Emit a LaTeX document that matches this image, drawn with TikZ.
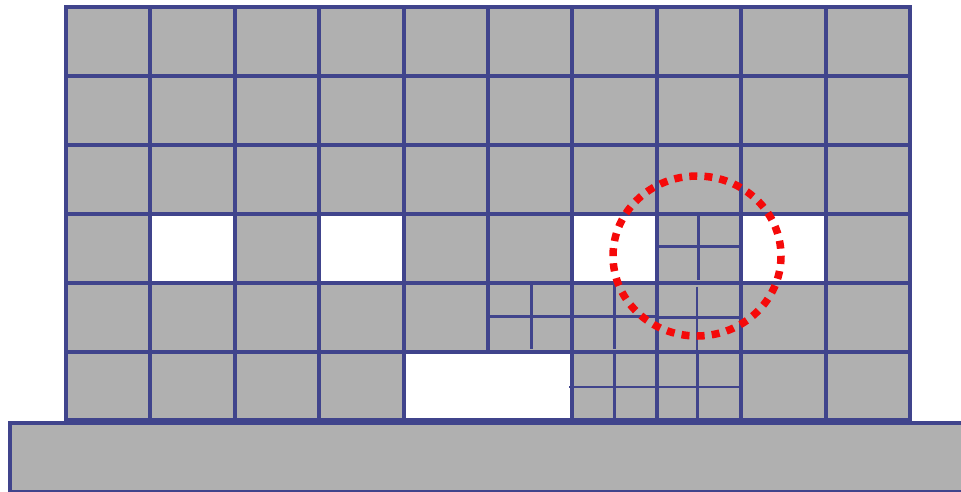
\documentclass[tikz,border=0pt]{standalone}
\usetikzlibrary{calc}
\definecolor{gridblue}{RGB}{64,68,140}
\definecolor{cellgray}{RGB}{176,176,176}
\definecolor{dotred}{RGB}{245,10,10}
\tikzset{
  thickline/.style={draw=gridblue, line width=4pt},
  thinline/.style={draw=gridblue, line width=2.6pt},
  whitecell/.style={fill=white},
  reddots/.style={draw=dotred, line width=7.5pt, dash pattern=on 8pt off 7.15pt}
}
\begin{document}
\begin{tikzpicture}[x=1pt,y=-1pt]
\useasboundingbox (0,0) rectangle (961,491);
% base slab
\draw[thickline, fill=cellgray] (9.5,423) rectangle (1000,492.2);
% grid cells
\fill[cellgray] (66,7) rectangle (910,420.4);
% white cells
\foreach \i in {1,3,6,8} {
  \fill[whitecell] ({66+84.4*\i},{7+68.9*3}) rectangle ({66+84.4*(\i+1)},{7+68.9*4});
}
\fill[whitecell] ({66+84.4*4},{7+68.9*5}) rectangle ({66+84.4*6},{7+68.9*6});
% thick grid lines
\foreach \j in {1,...,5} {
  \draw[thickline] (66,{7+68.9*\j}) -- (910,{7+68.9*\j});
}
\foreach \i in {1,2,3,4,6,7,8,9} {
  \draw[thickline] ({66+84.4*\i},7) -- ({66+84.4*\i},420.4);
}
\draw[thickline] ({66+84.4*5},7) -- ({66+84.4*5},{7+68.9*5});
\draw[thickline, line join=miter] (66,7) rectangle (910,420.4);
% thin subdivisions
% row 4, column 8
\draw[thinline] (657.2,246.5) -- (741.6,246.5);
\draw[thinline] (698.5,213.7) -- (698.5,280);
% row 5, columns 6-8
\draw[thinline] (488.4,316.5) -- (657.2,316.5);
\draw[thinline] (657.2,317.5) -- (739,317.5);
\draw[thinline] (531.5,282.6) -- (531.5,348.5);
\draw[thinline] (614.5,282.6) -- (614.5,348.5);
\draw[thinline] (697,286.5) -- (697,351.5);
% row 6, columns 7-8
\draw[thinline] (569,387) -- (657.2,387);
\draw[thinline] (657.2,387) -- (741.6,387);
\draw[thinline] (614.5,351.5) -- (614.5,420.4);
\draw[thinline] (697.5,351.5) -- (697.5,420.4);
% red dotted ellipse
\draw[reddots] (697,256) ellipse [x radius=84, y radius=80];
\end{tikzpicture}
\end{document}
